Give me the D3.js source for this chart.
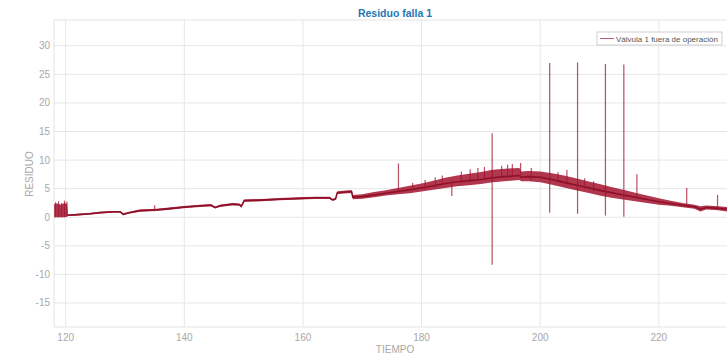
<!DOCTYPE html>
<html>
<head>
<meta charset="utf-8">
<script src="https://cdn.jsdelivr.net/npm/d3@7"></script>
<style>
    body { margin: 0; background: #fff; }
    svg { display: block; font-family: "Liberation Sans", Arial, sans-serif; }
</style>
</head>
<body>
<svg id="chart"></svg>
<script>
// Envelope of the residual signal (time, low, centre, high)
const tiempo = [118.05, 118.6, 119.2, 119.8, 120.25, 120.4, 122, 124, 125.8, 128, 129.2, 129.7, 130.5,
    132.5, 135.4, 137.5, 139.8, 142.7, 144.5, 145.2, 146, 148.2, 149.3, 149.6, 150.1, 153, 156,
    159.5, 162, 164.5, 165.0, 165.5, 165.8, 168.2, 168.4, 170, 172, 174, 176, 178, 180, 182, 184,
    186, 188, 190, 192, 194, 196.5, 196.8, 198, 200, 202, 204, 206, 208, 210, 212, 214, 216, 218,
    220, 222, 224, 226, 227, 228, 230, 232];
const residuoBajo = [0.0, 0.0, 0.0, 0.0, 0.1, 0.2, 0.3, 0.45, 0.65, 0.8, 0.8, 0.35, 0.6,
    0.95, 1.1, 1.3, 1.55, 1.8, 1.9, 1.55, 1.8, 2.1, 2.0, 1.7, 2.7, 2.8, 2.95,
    3.1, 3.2, 3.2, 2.9, 3.0, 4.05, 4.25, 3.15, 3.25, 3.5, 3.8, 4.0, 4.2, 4.5, 4.8, 5.1,
    5.4, 5.6, 5.8, 6.1, 6.3, 6.5, 6.3, 6.3, 6.1, 5.7, 5.2, 4.7, 4.3, 3.8, 3.4, 3.1, 2.8, 2.5,
    2.2, 2.0, 1.75, 1.5, 1.0, 1.35, 1.2, 0.95];
const residuoMedio = [1.0, 1.0, 1.0, 1.0, 0.3, 0.35, 0.45, 0.6, 0.8, 0.95, 0.95, 0.5, 0.75,
    1.15, 1.3, 1.5, 1.75, 2.0, 2.1, 1.7, 2.0, 2.3, 2.2, 1.9, 2.9, 3.0, 3.15,
    3.3, 3.4, 3.4, 3.05, 3.2, 4.3, 4.5, 3.5, 3.6, 3.9, 4.2, 4.5, 4.8, 5.1, 5.5, 5.9,
    6.2, 6.4, 6.6, 6.9, 7.1, 7.3, 7.0, 7.1, 7.0, 6.6, 6.1, 5.65, 5.2, 4.7, 4.3, 3.9, 3.5, 3.1,
    2.7, 2.4, 2.1, 1.85, 1.4, 1.7, 1.55, 1.35];
const residuoAlto = [2.3, 2.4, 2.2, 2.5, 2.3, 0.5, 0.6, 0.75, 0.95, 1.1, 1.1, 0.65, 0.9,
    1.35, 1.5, 1.7, 1.95, 2.2, 2.3, 1.85, 2.2, 2.5, 2.4, 2.1, 3.1, 3.2, 3.35,
    3.5, 3.6, 3.6, 3.2, 3.4, 4.55, 4.75, 3.9, 4.0, 4.4, 4.7, 5.1, 5.5, 5.9, 6.4, 6.9,
    7.3, 7.6, 7.9, 8.3, 8.5, 8.6, 8.0, 8.1, 8.0, 7.7, 7.3, 6.8, 6.3, 5.8, 5.3, 4.8, 4.3, 3.8,
    3.3, 2.9, 2.5, 2.2, 1.9, 2.05, 1.9, 1.75];

// Isolated spikes (time, bottom, top)
const picosTiempo = [118.3, 118.8, 119.3, 119.8, 120.2, 135.0, 176.1, 178.5, 180.6, 182.3, 183.5,
    185.1, 186.7, 188.2, 189.5, 190.6, 191.9, 193.5, 194.5, 195.3, 196.7, 198.5,
    201.6, 203.0, 204.5, 206.3, 207.5, 209.0, 211.0, 214.1, 216.3, 224.7, 229.9];
const picosBajo = [0.0, 0.0, 0.0, 0.0, 0.2, 1.2, 4.3, 4.6, 4.9, 5.3, 5.6,
    3.7, 6.0, 6.2, 6.4, 6.5, -8.3, 6.8, 6.9, 7.0, 6.8, 6.5,
    0.8, 6.1, 6.0, 0.6, 5.0, 4.6, 0.3, 0.1, 3.5, 2.0, 1.5];
const picosAlto = [2.6, 2.8, 2.5, 2.9, 2.7, 2.1, 9.4, 6.0, 6.5, 7.0, 7.3,
    6.5, 8.0, 8.4, 8.6, 8.8, 14.7, 9.0, 9.2, 9.3, 9.5, 8.6,
    27.0, 7.9, 8.3, 27.1, 6.8, 6.3, 26.8, 26.7, 7.5, 5.1, 3.9];

const xTicks = [120, 140, 160, 180, 200, 220];
const yTicks = [-15, -10, -5, 0, 5, 10, 15, 20, 25, 30];

document.addEventListener('DOMContentLoaded', function() {
    // Configuration
    const width = 727;
    const height = 356;
    const plot = { left: 54, top: 20, right: 730, bottom: 327 };
    const lineColor = '#a2142f';
    const gridColor = '#e6e6e6';
    const textColor = '#a8a8a8';

    const svg = d3.select('#chart')
        .attr('width', width)
        .attr('height', height);

    const x = d3.scaleLinear().domain([118.03, 232]).range([plot.left, plot.right]);
    const y = d3.scaleLinear().domain([-19.2, 34.5]).range([plot.bottom, plot.top]);

    // Grid lines
    svg.append('g')
        .selectAll('line')
        .data(xTicks)
        .join('line')
        .attr('x1', d => x(d)).attr('x2', d => x(d))
        .attr('y1', plot.top).attr('y2', plot.bottom)
        .attr('stroke', gridColor);

    svg.append('g')
        .selectAll('line')
        .data(yTicks)
        .join('line')
        .attr('x1', plot.left).attr('x2', plot.right)
        .attr('y1', d => y(d)).attr('y2', d => y(d))
        .attr('stroke', gridColor);

    // Box (left, top, bottom)
    svg.append('path')
        .attr('d', `M${plot.right},${plot.top}H${plot.left}V${plot.bottom}H${plot.right}`)
        .attr('fill', 'none')
        .attr('stroke', '#e3e3e3');

    // Tick labels
    svg.append('g')
        .selectAll('text')
        .data(yTicks)
        .join('text')
        .attr('x', plot.left - 4)
        .attr('y', d => y(d) + 3.5)
        .attr('text-anchor', 'end')
        .attr('font-size', 10)
        .attr('fill', textColor)
        .text(d => d);

    svg.append('g')
        .selectAll('text')
        .data(xTicks)
        .join('text')
        .attr('x', d => x(d))
        .attr('y', 341)
        .attr('text-anchor', 'middle')
        .attr('font-size', 10)
        .attr('fill', textColor)
        .text(d => d);

    // Residual band: envelope + dense core
    const data = tiempo.map((t, i) => ({
        t: t, lo: residuoBajo[i], mid: residuoMedio[i], hi: residuoAlto[i]
    }));
    const plotArea = svg.append('g');

    plotArea.append('path')
        .datum(data)
        .attr('d', d3.area().x(d => x(d.t)).y0(d => y(d.lo)).y1(d => y(d.hi)))
        .attr('fill', lineColor)
        .attr('fill-opacity', 0.85);

    plotArea.append('path')
        .datum(data.filter(d => d.t > 120.2))
        .attr('d', d3.line().x(d => x(d.t)).y(d => y(d.mid)))
        .attr('fill', 'none')
        .attr('stroke', '#8f0f28')
        .attr('stroke-width', 1.6);

    // Spikes
    const picos = picosTiempo.map((t, i) => ({ t: t, lo: picosBajo[i], hi: picosAlto[i] }));
    plotArea.selectAll('.pico')
        .data(picos)
        .join('line')
        .attr('class', 'pico')
        .attr('x1', d => x(d.t)).attr('x2', d => x(d.t))
        .attr('y1', d => y(d.lo)).attr('y2', d => y(d.hi))
        .attr('stroke', lineColor)
        .attr('stroke-opacity', 0.75)
        .attr('stroke-width', 1.2);

    // Title and axis labels
    svg.append('text')
        .attr('x', 395).attr('y', 17)
        .attr('text-anchor', 'middle')
        .attr('font-size', 10.5)
        .attr('font-weight', 'bold')
        .attr('fill', '#1f78b8')
        .text('Residuo falla 1');

    svg.append('text')
        .attr('x', 395).attr('y', 353)
        .attr('text-anchor', 'middle')
        .attr('font-size', 10)
        .attr('fill', textColor)
        .text('TIEMPO');

    svg.append('text')
        .attr('transform', 'translate(33,174) rotate(-90)')
        .attr('text-anchor', 'middle')
        .attr('font-size', 10)
        .attr('fill', textColor)
        .text('RESIDUO');

    // Legend
    const legend = svg.append('g').attr('transform', 'translate(597,32)');
    legend.append('rect')
        .attr('width', 125).attr('height', 13)
        .attr('fill', '#fff')
        .attr('stroke', '#cfcfcf');
    legend.append('line')
        .attr('x1', 3).attr('x2', 17)
        .attr('y1', 6.5).attr('y2', 6.5)
        .attr('stroke', lineColor)
        .attr('stroke-opacity', 0.7);
    legend.append('text')
        .attr('x', 19).attr('y', 9.5)
        .attr('font-size', 8)
        .attr('fill', '#555')
        .text('Válvula 1 fuera de operación');
});
</script>
</body>
</html>
